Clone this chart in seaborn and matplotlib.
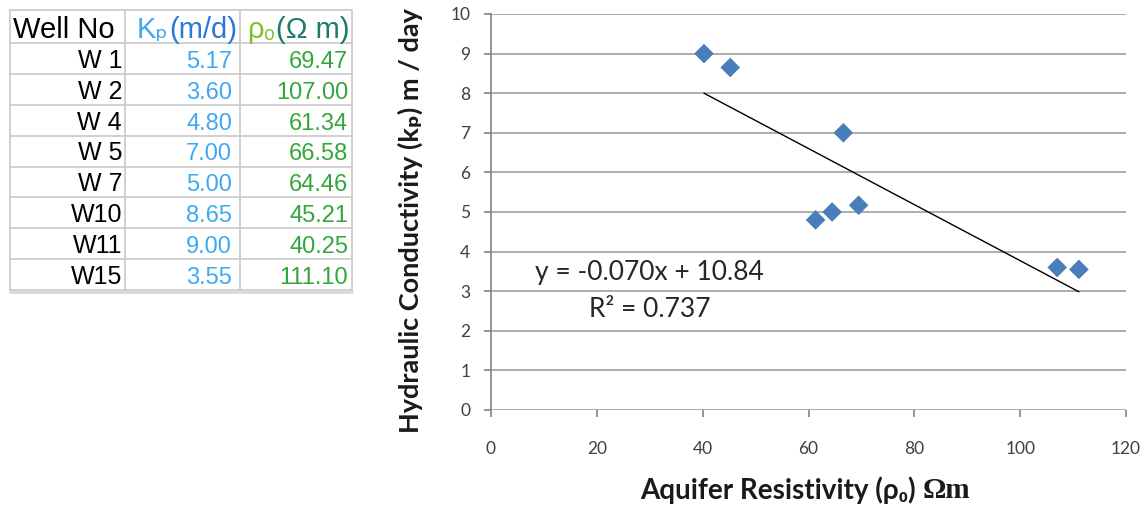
import matplotlib
matplotlib.use('Agg')
import matplotlib.pyplot as plt
import seaborn as sns
import numpy as np
import pandas as pd

wells = ['W 1', 'W 2', 'W 4', 'W 5', 'W 7', 'W10', 'W11', 'W15']
kp = [5.17, 3.60, 4.80, 7.00, 5.00, 8.65, 9.00, 3.55]
rho = [69.47, 107.00, 61.34, 66.58, 64.46, 45.21, 40.25, 111.10]
xticks = [0, 20, 40, 60, 80, 100, 120]
yticks = list(range(0, 11))
eq_text = 'y = -0.070x + 10.84'
r2_text = 'R² = 0.737'

df = pd.DataFrame({'well': wells, 'kp': kp, 'rho': rho})

sns.set_style('white')
plt.rcParams['font.family'] = ['Lato', 'DejaVu Sans']

fig = plt.figure(figsize=(11.45, 5.09), dpi=100)
W, H = 1145, 509

# ---------------- chart ----------------
ax = fig.add_axes([491 / W, 1 - 410 / H, 635 / W, 396 / H])
sns.scatterplot(data=df, x='rho', y='kp', ax=ax, marker='D', s=100,
                color='#4a7ebb', edgecolor='none', zorder=3)

slope, icpt = np.polyfit(df['rho'], df['kp'], 1)
xs = np.array([df['rho'].min(), df['rho'].max()])
ax.plot(xs, slope * xs + icpt, color='black', lw=1.0, zorder=2)

ax.set_xlim(0, 120)
ax.set_ylim(0, 10)
ax.set_xticks(xticks)
ax.set_yticks(yticks)
ax.yaxis.grid(True, color='#a6a6a6', lw=1.3)
ax.xaxis.grid(False)
for s in ['top', 'right', 'bottom']:
    ax.spines[s].set_visible(False)
ax.spines['left'].set_color('#8c8c8c')
ax.spines['left'].set_linewidth(1.3)
ax.tick_params(axis='y', which='both', direction='out', length=5, width=1.3,
               color='#8c8c8c', left=True, pad=10, labelsize=12.5, labelcolor='#404040')
ax.tick_params(axis='x', which='both', direction='out', length=5, width=1.3,
               color='#8c8c8c', bottom=True, pad=17, labelsize=12.5, labelcolor='#404040')
ax.set_xlabel('')
ax.set_ylabel('')

ax.text(30.0, 3.46, eq_text, ha='center', va='center', fontsize=19, color='#262626')
ax.text(30.0, 2.53, r2_text, ha='center', va='center', fontsize=19, color='#262626')

fig.text(410 / W, 1 - 221 / H, 'Hydraulic Conductivity (kₚ) m / day', rotation=90,
         ha='center', va='center', fontsize=19.5, fontweight='bold', color='#1a1a1a')
xl = fig.text(640 / W, 1 - 490 / H, 'Aquifer Resistivity (ρ₀) ', ha='left', va='center',
              fontsize=20, fontweight='bold', color='#1a1a1a')
ax.annotate('Ωm', xy=(1, 0), xycoords=xl, ha='left', va='bottom', fontsize=21,
            fontweight='bold', family=['Liberation Serif', 'DejaVu Serif'], color='#1a1a1a')

# ---------------- table ----------------
tx0, ty0, tw, th = 10, 10, 342, 280
at = fig.add_axes([tx0 / W, 1 - (ty0 + th) / H, tw / W, th / H])
at.set_xlim(0, tw)
at.set_ylim(th, 0)
at.axis('off')

col_edges = [0, 115, 230, 342]
head_h = 33
row_h = (th - head_h) / len(wells)
line_c = '#c8c8c8'
for cx in col_edges:
    at.plot([cx, cx], [0, th], color=line_c, lw=1.2, clip_on=False)
at.plot([0, tw], [0, 0], color=line_c, lw=1.2, clip_on=False)
for i in range(len(wells) + 1):
    yy = head_h + i * row_h
    at.plot([0, tw], [yy, yy], color=line_c, lw=1.2, clip_on=False)
at.plot([0, tw], [th + 1.5, th + 1.5], color='#d8d8d8', lw=2, clip_on=False)

tfont = ['Liberation Sans', 'DejaVu Sans']
hy = head_h - 5
at.text(3, hy, 'Well No', ha='left', va='baseline', fontsize=21, color='black', family=tfont)
k1 = at.text(127, hy, 'Kₚ', ha='left', va='baseline', fontsize=21, color='#3fa9f0', family=tfont)
at.annotate('(m/d)', xy=(1, 0), xycoords=k1, ha='left', va='bottom', fontsize=21,
            color='#2a78d8', family=tfont)
r1 = at.text(237, hy, 'ρ₀', ha='left', va='baseline', fontsize=21, color='#7cbf2a', family=tfont)
at.annotate('(Ω m)', xy=(1, 0), xycoords=r1, ha='left', va='bottom', fontsize=21,
            color='#1e7a6a', family=tfont)

for i, (w, k, r) in enumerate(zip(wells, kp, rho)):
    yy = head_h + (i + 1) * row_h - 6
    at.text(112, yy, w, ha='right', va='baseline', fontsize=18, color='black', family=tfont)
    at.text(222, yy, f'{k:.2f}', ha='right', va='baseline', fontsize=17, color='#3fa9f0', family=tfont)
    at.text(338, yy, f'{r:.2f}', ha='right', va='baseline', fontsize=17, color='#34a63a', family=tfont)

fig.savefig('out.png', dpi=100)
